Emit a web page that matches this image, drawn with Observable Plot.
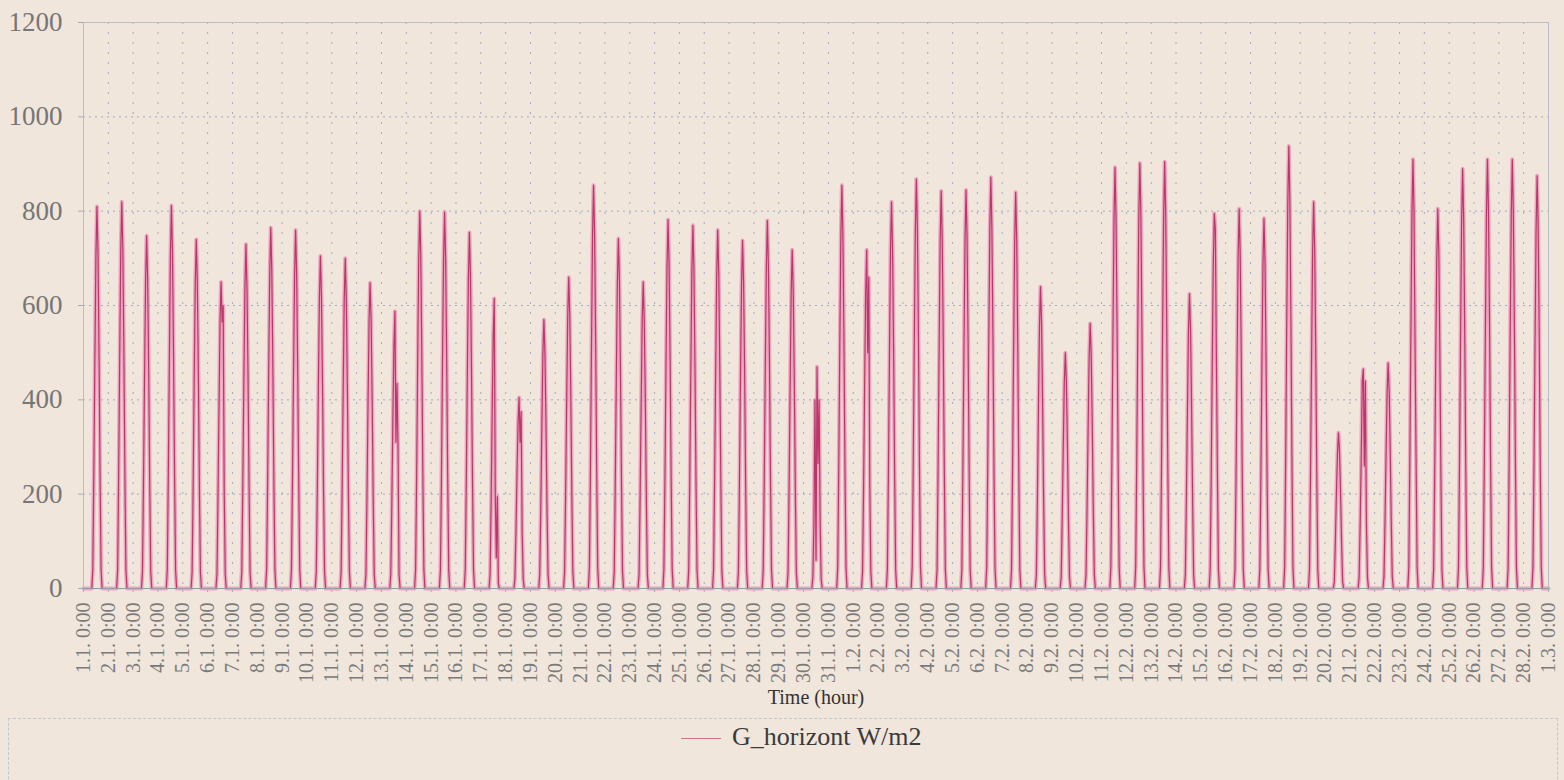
<!DOCTYPE html>
<html>
<head>
<meta charset="utf-8">
<script src="https://cdn.jsdelivr.net/npm/d3@7"></script>
<script src="https://cdn.jsdelivr.net/npm/@observablehq/plot@0.6"></script>
<style>
  html, body { margin: 0; padding: 0; background: #f0e6dc; }
  #chart svg { display: block; }
  #legend { position: relative; height: 62px; }
  #legend .box { position: absolute; left: 8px; top: 0; width: 1548px; height: 70px;
    border-top: 1px dashed #c3c6d2; border-left: 1px dashed #c3c6d2; border-right: 1px dashed #c3c6d2; }
  #legend .swatch { position: absolute; left: 681px; top: 20px; width: 40px; height: 0; border-top: 1.5px solid #d36a92; }
  #legend .txt { position: absolute; left: 732px; top: 4px; font: 26px "Liberation Serif", serif; color: #3a3a3a; white-space: nowrap; }
</style>
</head>
<body>
<div id="chart"></div>
<div id="legend"><div class="box"></div><div class="swatch"></div><div class="txt">G_horizont W/m2</div></div>
<script>
// X tick labels (one per day boundary, Jan 1 .. Mar 1)
const tickLabels = [
  "1.1. 0:00","2.1. 0:00","3.1. 0:00","4.1. 0:00","5.1. 0:00","6.1. 0:00","7.1. 0:00","8.1. 0:00","9.1. 0:00","10.1. 0:00",
  "11.1. 0:00","12.1. 0:00","13.1. 0:00","14.1. 0:00","15.1. 0:00","16.1. 0:00","17.1. 0:00","18.1. 0:00","19.1. 0:00","20.1. 0:00",
  "21.1. 0:00","22.1. 0:00","23.1. 0:00","24.1. 0:00","25.1. 0:00","26.1. 0:00","27.1. 0:00","28.1. 0:00","29.1. 0:00","30.1. 0:00",
  "31.1. 0:00","1.2. 0:00","2.2. 0:00","3.2. 0:00","4.2. 0:00","5.2. 0:00","6.2. 0:00","7.2. 0:00","8.2. 0:00","9.2. 0:00",
  "10.2. 0:00","11.2. 0:00","12.2. 0:00","13.2. 0:00","14.2. 0:00","15.2. 0:00","16.2. 0:00","17.2. 0:00","18.2. 0:00","19.2. 0:00",
  "20.2. 0:00","21.2. 0:00","22.2. 0:00","23.2. 0:00","24.2. 0:00","25.2. 0:00","26.2. 0:00","27.2. 0:00","28.2. 0:00","1.3. 0:00"
];
const yTicks = [0, 200, 400, 600, 800, 1000, 1200];
// Daylight hours with non-zero irradiance; night hours are 0
const daylightHours = [9, 10, 11, 12, 13, 14, 15, 16, 17];
// G_horizont W/m2, one row per day (values at the daylight hours above)
const dailyProfiles = [
  [40, 245, 485, 705, 810, 715, 500, 245, 40],
  [40, 245, 490, 715, 820, 720, 510, 245, 40],
  [35, 225, 450, 650, 748, 660, 465, 225, 35],
  [40, 245, 485, 705, 812, 715, 505, 245, 40],
  [35, 220, 445, 645, 740, 650, 460, 220, 35],
  [30, 195, 390, 570, 650, 565, 600, 210, 30],
  [35, 220, 440, 635, 730, 640, 455, 220, 35],
  [40, 230, 460, 665, 765, 675, 475, 230, 40],
  [40, 230, 455, 660, 760, 670, 470, 230, 40],
  [35, 210, 425, 615, 705, 620, 435, 210, 35],
  [35, 210, 420, 610, 700, 615, 435, 210, 35],
  [30, 195, 390, 565, 648, 570, 400, 195, 30],
  [30, 175, 355, 510, 588, 310, 435, 300, 30],
  [40, 240, 480, 695, 800, 705, 495, 240, 40],
  [40, 240, 480, 695, 798, 700, 495, 240, 40],
  [40, 225, 455, 655, 755, 665, 470, 225, 40],
  [30, 185, 370, 535, 615, 200, 65, 195, 10],
  [20, 120, 245, 350, 405, 310, 375, 120, 20],
  [30, 170, 340, 495, 570, 500, 355, 170, 30],
  [35, 200, 395, 575, 660, 580, 410, 200, 35],
  [45, 255, 515, 745, 855, 750, 530, 255, 45],
  [35, 225, 445, 645, 742, 655, 460, 225, 35],
  [30, 195, 390, 565, 650, 570, 405, 195, 30],
  [40, 235, 470, 680, 782, 690, 485, 235, 40],
  [40, 230, 460, 670, 770, 680, 475, 230, 40],
  [40, 230, 455, 660, 760, 670, 470, 230, 40],
  [35, 220, 445, 640, 738, 650, 460, 220, 35],
  [40, 235, 470, 680, 780, 685, 485, 235, 40],
  [35, 215, 430, 625, 718, 630, 445, 215, 35],
  [25, 140, 400, 60, 470, 265, 400, 140, 20],
  [45, 255, 515, 745, 855, 750, 530, 255, 45],
  [35, 215, 430, 625, 718, 500, 660, 215, 35],
  [40, 245, 490, 715, 820, 720, 510, 245, 40],
  [45, 260, 520, 755, 868, 765, 540, 260, 45],
  [40, 255, 505, 735, 843, 740, 525, 255, 40],
  [40, 255, 505, 735, 845, 745, 525, 255, 40],
  [45, 260, 525, 760, 872, 765, 540, 260, 45],
  [40, 250, 505, 730, 840, 740, 520, 250, 40],
  [30, 190, 385, 555, 640, 565, 395, 190, 30],
  [25, 150, 300, 435, 500, 440, 310, 150, 25],
  [30, 170, 335, 490, 562, 495, 350, 170, 30],
  [45, 270, 535, 775, 893, 785, 555, 270, 45],
  [45, 270, 540, 785, 902, 795, 560, 270, 45],
  [45, 270, 545, 785, 905, 795, 560, 270, 45],
  [30, 190, 375, 545, 625, 550, 390, 190, 30],
  [40, 240, 475, 690, 795, 760, 490, 240, 40],
  [40, 240, 485, 700, 805, 710, 500, 240, 40],
  [40, 235, 470, 685, 785, 690, 485, 235, 40],
  [45, 280, 565, 815, 938, 825, 580, 280, 45],
  [40, 245, 490, 715, 820, 720, 510, 245, 40],
  [15, 100, 200, 285, 330, 290, 205, 100, 15],
  [25, 140, 280, 440, 465, 260, 440, 140, 25],
  [25, 145, 285, 415, 478, 420, 295, 145, 25],
  [45, 275, 545, 790, 910, 800, 520, 275, 45],
  [40, 240, 485, 700, 805, 710, 500, 240, 40],
  [45, 265, 535, 775, 890, 785, 550, 265, 45],
  [45, 275, 545, 790, 910, 800, 565, 275, 45],
  [45, 275, 545, 790, 910, 800, 565, 275, 45],
  [45, 265, 525, 760, 875, 770, 545, 265, 45]
];

// Build hourly table (hour index since 1.1. 0:00)
const series = [{t: 0, v: 0}];
dailyProfiles.forEach((prof, d) => {
  series.push({t: d * 24 + daylightHours[0] - 1, v: 0});
  prof.forEach((v, i) => series.push({t: d * 24 + daylightHours[i], v}));
  series.push({t: d * 24 + daylightHours[daylightHours.length - 1] + 1, v: 0});
});
series.push({t: (tickLabels.length - 1) * 24, v: 0});
const xTicks = tickLabels.map((_, i) => i * 24);

const chart = Plot.plot({
  width: 1564,
  height: 718,
  marginLeft: 83,
  marginRight: 16,
  marginTop: 22,
  marginBottom: 130,
  style: {background: "transparent", fontFamily: "'Liberation Serif', serif"},
  x: {domain: [0, xTicks[xTicks.length - 1]]},
  y: {domain: [0, 1200]},
  marks: [
    Plot.gridY(yTicks, {stroke: "#a4abc0", strokeOpacity: 1, strokeDasharray: "2,4"}),
    Plot.gridX(xTicks, {stroke: "#a4abc0", strokeOpacity: 1, strokeDasharray: "2,8"}),
    Plot.frame({stroke: "#b9bdca"}),
    Plot.lineY(series, {x: "t", y: "v", stroke: "#eb9aba", strokeWidth: 4, strokeOpacity: 0.85}),
    Plot.lineY(series, {x: "t", y: "v", stroke: "#b8386a", strokeWidth: 1.2}),
    Plot.ruleY([0], {stroke: "#9c95ab", strokeWidth: 1.2}),
    Plot.axisY(yTicks, {tickSize: 5, tickPadding: 16, fontSize: 27, fill: "#767676", stroke: "#aab",
      tickFormat: d => String(d), label: null}),
    Plot.axisX(xTicks, {tickRotate: -90, tickFormat: t => tickLabels[t / 24], fontSize: 20, tickSize: 4,
      tickPadding: 10, fill: "#7a7a7a", stroke: "#aab", label: null}),
    Plot.text(["Time (hour)"], {frameAnchor: "bottom", dy: 115, fontSize: 20, fill: "#333"})
  ]
});
document.getElementById("chart").appendChild(chart);
</script>
</body>
</html>
